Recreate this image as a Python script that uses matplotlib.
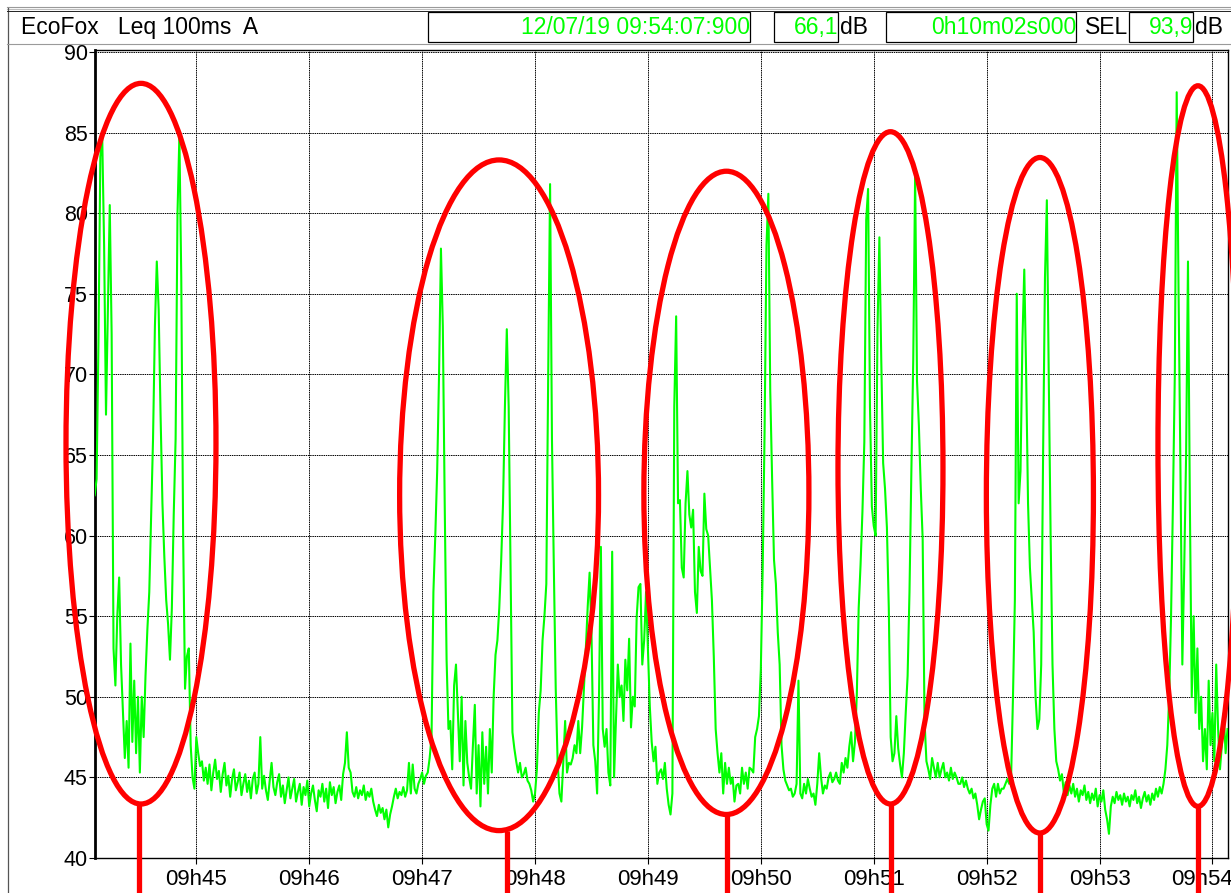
import numpy as np
import matplotlib
matplotlib.use("Agg")
import matplotlib.pyplot as plt
from matplotlib.patches import Ellipse, Rectangle
from matplotlib.transforms import ScaledTranslation

plt.rcParams['font.family'] = ['Liberation Sans', 'DejaVu Sans']

# Leq 100ms A, one value per second, seconds after 09:44:00 (first = 6 s)
t_start = 6
level_db = [
    62.5, 63.5, 72, 83.5, 84.7, 78, 67.5, 74, 80.5, 72.5,
    53, 50.7, 55, 57.4, 52, 49.1, 46.2, 48.5, 45.6, 53.3,
    47.2, 51, 46.5, 50, 45.3, 50, 47.5, 51.3, 54.2, 56.5,
    61.3, 66, 73, 77, 74, 67.5, 62, 58.7, 56, 54.5,
    52.3, 55.5, 61.3, 66, 80, 84.8, 76, 60, 50.5, 52.5,
    53, 47, 45, 44.3, 47.5, 46.5, 45.7, 46, 44.8, 45.6,
    44.6, 45.8, 44.2, 45.3, 46.1, 44.9, 45.4, 44.1, 45.2, 45.9,
    44.5, 45.1, 43.8, 44.9, 45.5, 44.2, 44.7, 45.3, 43.9, 44.6,
    45.2, 44.1, 44.8, 43.7, 44.9, 45.3, 44.0, 44.6, 47.5, 44.3,
    45.1, 44.2, 43.6, 44.8, 45.9, 44.4, 43.9, 44.7, 45.2, 43.8,
    44.5, 43.4, 44.2, 45.0, 43.7, 44.3, 44.9, 43.5, 44.1, 44.6,
    43.3, 44.4, 43.9, 44.8, 43.2, 44.0, 44.5, 43.6, 42.9, 44.2,
    43.8, 44.6, 43.5, 44.3, 43.1, 44.7, 43.9, 44.4, 43.4, 44.1,
    44.5, 43.6, 45.2, 45.9, 47.8, 45.6, 45.3, 44.1, 43.8, 44.4,
    43.7, 44.2, 43.9, 44.5, 43.6, 44.1, 43.8, 44.3, 43.5, 43.0,
    42.6, 43.3, 42.8, 43.1, 42.4, 43.0, 41.9, 42.7, 43.2, 43.8,
    44.3, 43.7, 44.1, 43.9, 44.4, 43.8, 44.2, 45.9, 44.0, 45.8,
    44.3, 44.0, 44.6, 44.9, 45.3, 44.6, 45.1, 45.3, 46.2, 47.5,
    56.5, 60, 64, 70, 77.8, 73, 62, 52.3, 48, 48.5,
    45.5, 50.7, 52, 49, 46, 50, 44.5, 48.5, 45.9, 45,
    44.3, 47, 49.5, 44, 47, 43.2, 47.8, 44.6, 46.9, 44,
    48, 45.3, 50, 52.6, 53.5, 55.5, 58.4, 62, 68, 72.8,
    68, 58, 47.8, 46.8, 46, 45.3, 45.9, 45, 45.2, 45.6,
    44.8, 44.6, 44.2, 43.5, 44, 45.5, 49, 50.4, 53.5, 55,
    57, 70, 81.8, 66, 58, 50.5, 46, 44, 43.5, 45.9,
    48.5, 45.3, 45.9, 45.8, 46.2, 47, 46.5, 48.5, 46.5, 48.1,
    50.5, 53, 55.6, 57.7, 54, 47, 46, 44, 50, 59.3,
    48, 46.9, 48, 45.3, 44.5, 59, 45, 48.5, 52, 50,
    50.7, 48.5, 52.3, 50.4, 53.6, 48.1, 50, 49.4, 54.9, 56.8,
    57, 52, 53.5, 56.5, 53, 49.4, 47.2, 46, 46.9, 44.6,
    45.3, 45.5, 44.9, 45.9, 44.3, 43.3, 42.7, 44, 68, 73.6,
    62, 62.2, 58, 57.4, 62, 64, 61.3, 60.5, 61.6, 56.5,
    55.2, 59.3, 57.8, 57.5, 62.6, 60.4, 60, 58, 56, 52.5,
    48, 46.5, 45.3, 46.5, 44, 45.9, 44.6, 45.6, 44.6, 45,
    43.5, 44.5, 44.6, 44, 45.6, 44.6, 45.3, 44.3, 45.6, 45.5,
    45.3, 47.5, 48, 48.8, 51.7, 58, 66.5, 78, 81.2, 69,
    63.5, 58.5, 57, 54, 52, 47, 45.5, 44.8, 44.5, 44.2,
    44.3, 43.8, 44, 44.6, 51, 44, 43.7, 44.6, 44, 44.9,
    44.3, 43.8, 44, 43.3, 44.6, 46.5, 45, 44, 44.5, 44.3,
    45, 45.3, 44.7, 44.9, 45.3, 44.8, 44.6, 45.9, 45.3, 46.2,
    45.6, 46.9, 47.8, 46, 47.2, 50.1, 55.5, 58.2, 61.5, 65.8,
    79.6, 81.5, 68, 61.8, 60.6, 60, 72.8, 78.5, 70.9, 64.5,
    62.9, 60.5, 55.5, 47.5, 46, 46.5, 48.8, 46.8, 45.8, 45,
    46.5, 49, 51.3, 56.5, 64, 70.9, 82.4, 69.6, 66.8, 62.9,
    59.8, 48.5, 46, 45.5, 44.9, 46.2, 45.6, 45, 45.9, 45,
    45.5, 45.9, 45, 45.3, 44.8, 45.6, 44.9, 45.3, 45, 44.6,
    44.6, 45, 44.4, 44.8, 44.3, 44, 44.3, 43.7, 44, 43.3,
    42.4, 43, 43.5, 43.7, 42.1, 41.7, 43.3, 44.3, 44.6, 43.8,
    44.6, 44, 44.3, 44.3, 44.6, 44.9, 44.6, 45, 50, 56,
    75, 62, 64, 72, 76.5, 70, 62, 58, 56, 54,
    50, 48, 48.6, 52, 65, 76, 80.8, 70, 60, 52,
    48, 46, 45.5, 44.8, 45.2, 44.1, 44.7, 43.9, 44.5, 44.0,
    44.6, 43.8, 44.3, 43.5, 44.2, 43.9, 44.5, 43.6, 44.1, 43.4,
    44.0, 43.6, 44.3, 43.2, 43.9, 43.5, 44.2, 43.0, 42.4, 41.5,
    43.2, 43.8, 43.4, 44.1, 43.6, 43.9, 43.3, 44.0, 43.5, 43.8,
    43.2, 43.9, 43.6, 44.2, 43.4, 43.8, 43.1, 43.7, 44.1, 43.5,
    43.9, 43.3, 44.0, 43.6, 44.3, 43.8, 44.4, 44.0, 44.6, 45.5,
    47, 50, 55, 62, 70, 87.5, 75, 64, 52, 58,
    65, 77, 62, 50, 55, 49, 53, 48, 50, 46,
    48, 45.5, 51, 47, 49, 46, 52, 48, 45.5, 47,
    49, 46.5, 48,
]

minute_ticks = [60, 120, 180, 240, 300, 360, 420, 480, 540, 600]
minute_labels = ['09h45', '09h46', '09h47', '09h48', '09h49',
                 '09h50', '09h51', '09h52', '09h53', '09h54']
db_ticks = [40, 45, 50, 55, 60, 65, 70, 75, 80, 85, 90]

# red hand-drawn marks around each pass: centre time, centre level, width, height
ring_t = [30.6, 220.9, 341.7, 428.9, 508.3, 592.3]
ring_db = [65.7, 62.5, 62.65, 64.2, 62.5, 65.55]
ring_w = [79.7, 105.7, 87.7, 55.8, 56.9, 42.5]
ring_h = [44.7, 41.6, 39.9, 41.7, 41.9, 44.7]
stem_t = [29.5, 225.1, 341.8, 429.2, 508.3, 592.3]

header_title = 'EcoFox   Leq 100ms  A'
header_date = '12/07/19 09:54:07:900'
header_leq = '66,1'
header_dur = '0h10m02s000'
header_sel = '93,9'

W, H = 1231, 893
fig = plt.figure(figsize=(W / 100, H / 100), dpi=100)
fig.patch.set_facecolor('white')

# header / frame drawn in pixel coordinates
hd = fig.add_axes([0, 0, 1, 1])
hd.set_xlim(0, W)
hd.set_ylim(H, 0)
hd.axis('off')
hd.plot([7, W], [7, 7], color='#9a9a9a', lw=0.8)
hd.plot([7, W], [9, 9], color='#bdbdbd', lw=0.8)
hd.plot([7.5, 7.5], [8, H], color='#555555', lw=0.9)
hd.plot([7, W], [43.5, 43.5], color='#9a9a9a', lw=0.8)
hd.plot([7, W], [10.5, 10.5], color='#222222', lw=0.7)
green = '#00ff00'
boxes = [(428, 750), (774, 838), (886, 1076), (1129, 1193)]
for bx0, bx1 in boxes:
    hd.add_patch(Rectangle((bx0, 12), bx1 - bx0, 30, fill=False, ec='black', lw=0.9))
ty = 27.5
fs = 16.5
hd.text(21, ty, header_title, fontsize=fs, va='center', ha='left')
hd.text(750, ty, header_date, fontsize=fs, va='center', ha='right', color=green)
hd.text(838, ty, header_leq, fontsize=fs, va='center', ha='right', color=green)
hd.text(840, ty, 'dB', fontsize=fs, va='center', ha='left')
hd.text(1076, ty, header_dur, fontsize=fs, va='center', ha='right', color=green)
hd.text(1085, ty, 'SEL', fontsize=fs, va='center', ha='left')
hd.text(1193, ty, header_sel, fontsize=fs, va='center', ha='right', color=green)
hd.text(1195, ty, 'dB', fontsize=fs, va='center', ha='left')

# main plot
x0, x1, y0, y1 = 94.7, 1227.5, 49.5, 858
ax = fig.add_axes([x0 / W, 1 - y1 / H, (x1 - x0) / W, (y1 - y0) / H])
t = t_start + np.arange(len(level_db))
ax.plot(t, level_db, color=green, lw=1.5, zorder=3)
ax.set_xlim(6, 608)
ax.set_ylim(40, 90.15)
ax.set_xticks(minute_ticks)
ax.set_xticklabels(minute_labels, fontsize=16)
ax.set_yticks(db_ticks)
ax.set_yticklabels([str(v) for v in db_ticks], fontsize=15.5)
ax.tick_params(axis='x', direction='out', length=4, pad=4, width=0.8)
ax.tick_params(axis='y', direction='out', length=4, pad=1, width=0.8)
last = ax.get_xticklabels()[-1]
last.set_transform(last.get_transform() + ScaledTranslation(-0.1, 0, fig.dpi_scale_trans))
ax.grid(True, color='black', lw=0.7, linestyle=(0, (1.5, 0.8)), zorder=1)
ax.set_axisbelow(True)
for side in ['top', 'right', 'bottom']:
    ax.spines[side].set_linewidth(1.0)
ax.spines['left'].set_linewidth(2.0)

for tc, dc, w, h, ts in zip(ring_t, ring_db, ring_w, ring_h, stem_t):
    ax.add_patch(Ellipse((tc, dc), w, h, fill=False, ec='#ff0000', lw=3.8,
                         clip_on=False, zorder=5))
    ax.plot([ts, ts], [dc - h / 2, 30], color='#ff0000', lw=3.8,
            clip_on=False, zorder=5, solid_capstyle='butt')

fig.savefig('out.png', dpi=100)
